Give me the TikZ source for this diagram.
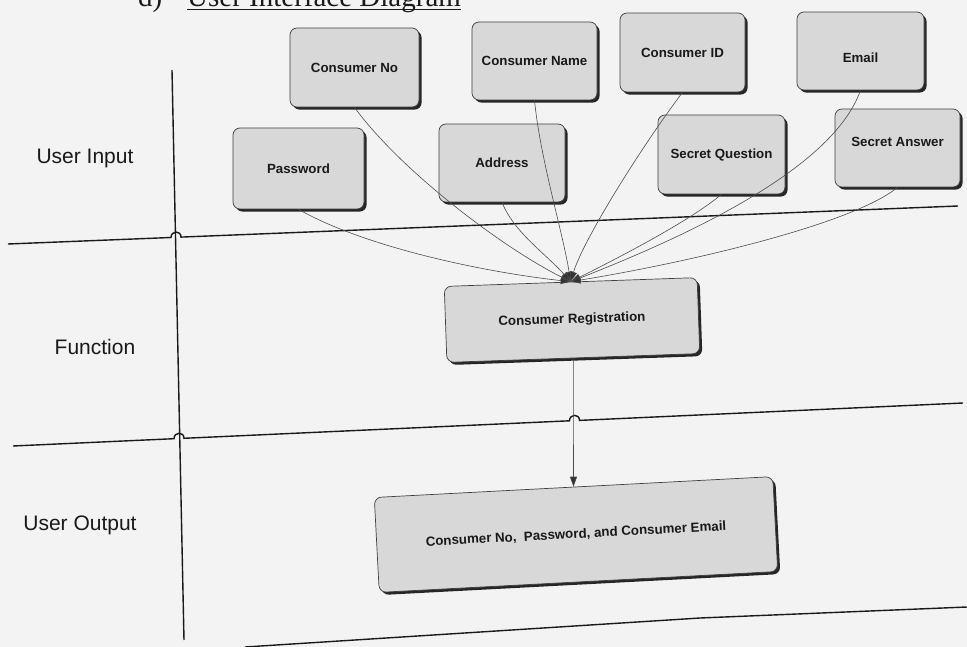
\documentclass[tikz,border=0pt]{standalone}
\usepackage{fontspec}
\setmainfont{Liberation Sans}
\newfontfamily\serifttl{Liberation Serif}
\usetikzlibrary{shadows,arrows.meta}
\definecolor{bgc}{RGB}{243,243,243}
\definecolor{boxfill}{RGB}{216,216,216}
\definecolor{ink}{RGB}{25,25,25}
\tikzset{
  ibox/.style={draw=black!75, line width=0.7pt, fill=boxfill, rounded corners=7pt,
    font=\bfseries\fontsize{13.3}{15}\selectfont, text=ink, inner sep=0pt,
    drop shadow={shadow xshift=2.6pt, shadow yshift=-2.6pt, fill=black!85, opacity=1}},
  lanelabel/.style={font=\fontsize{21}{24}\selectfont, text=ink, inner sep=0pt},
  lane/.style={draw=ink, line width=1.4pt},
  conn/.style={draw=black!70, line width=0.6pt, -{Triangle[length=10pt,width=7pt,fill=black!80]}},
  ttlfont/.style={font=\serifttl\fontsize{29}{30}\selectfont, text=ink, inner sep=0pt, anchor=base west}
}
\begin{document}
\begin{tikzpicture}[x=1pt,y=-1pt]
\fill[bgc] (0,0) rectangle (967,647);
\useasboundingbox (0,0) rectangle (967,647);

% title (cut off at the top, as in the reference)
\node[ttlfont] (tnum) at (138,7) {d)};
\node[ttlfont] (ttl) at (187,7) {User Interface Diagram};
\draw[ink, line width=1.8pt] ([yshift=-2.5pt]ttl.base west) -- ([yshift=-2.5pt]ttl.base east);

% swimlane lines
\draw[lane] (172,70) -- (184,640);
\draw[lane] (8,244) -- (171,237.5) .. controls (171,230.5) and (181,230.1) .. (181,237.1) -- (958,206);
\draw[lane] (13,446) -- (174,438.7) .. controls (174,431.7) and (184,431.3) .. (184,438.3)
  -- (569.5,420.8) .. controls (569.5,413.8) and (579.5,413.4) .. (579.5,420.4) -- (963,403);
\draw[lane] (245,647) -- (700,618) -- (967,607);

% lane labels
\node[lanelabel] (lin) at (85,158) {User Input};
\node[lanelabel] (lfn) at (95,347) {Function};
\node[lanelabel] (lout) at (80,525) {User Output};

% input boxes
\node[ibox, minimum width=129pt, minimum height=79pt] (cno) at (354.5,67.5) {Consumer No};
\node[ibox, minimum width=125pt, minimum height=78pt] (cname) at (534.5,61) {Consumer Name};
\node[ibox, minimum width=125pt, minimum height=79pt] (cid) at (682.5,52.5) {Consumer ID};
\node[ibox, minimum width=127pt, minimum height=78pt] (email) at (860.5,51) {\raisebox{-12pt}[0pt][0pt]{Email}};
\node[ibox, minimum width=131pt, minimum height=81pt] (pwd) at (298.5,168.5) {Password};
\node[ibox, minimum width=126pt, minimum height=78pt] (addr) at (502,163) {Address};
\node[ibox, minimum width=127pt, minimum height=79pt] (sq) at (721.5,154.5) {Secret Question};
\node[ibox, minimum width=125pt, minimum height=78pt] (sa) at (897.5,148) {\raisebox{1pt}[0pt][0pt]{Secret Answer}};

% function and output
\node[ibox, minimum width=253pt, minimum height=76pt, rotate=2] (reg) at (572,320) {Consumer Registration};
\node[ibox, minimum width=399pt, minimum height=95pt, rotate=3] (out) at (576,534.5) {Consumer No,\ \ Password, and Consumer Email};

% connectors
\draw[conn] (cno.south) .. controls +(45,62) and +(-70,-35) .. (reg.north);
\draw[conn] (pwd.south) .. controls +(65,37) and +(-90,-10) .. (reg.north);
\draw[conn] (addr.south) .. controls +(12,30) and +(-25,-28) .. (reg.north);
\draw[conn] (cname.south) .. controls +(6,60) and +(-8,-50) .. (reg.north);
\draw[conn] (cid.south) .. controls +(-45,60) and +(12,-40) .. (reg.north);
\draw[conn] (email.south) .. controls +(-25,70) and +(148,-58) .. (reg.north);
\draw[conn] (sq.south) .. controls +(-30,25) and +(60,-30) .. (reg.north);
\draw[conn] (sa.south) .. controls +(-42,35) and +(128,-21) .. (reg.north);
\draw[conn] (reg.south) -- (out.north);
\end{tikzpicture}
\end{document}
